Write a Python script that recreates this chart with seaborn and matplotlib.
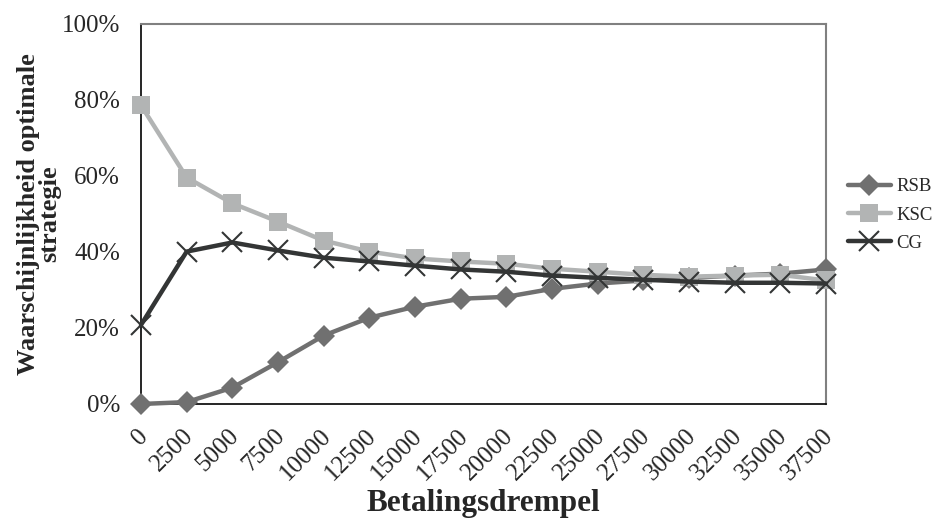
import matplotlib
matplotlib.use("Agg")
import matplotlib.pyplot as plt
import matplotlib.transforms as mtransforms
import seaborn as sns
import pandas as pd
from matplotlib.ticker import PercentFormatter

thresholds = ["0", "2500", "5000", "7500", "10000", "12500", "15000", "17500",
              "20000", "22500", "25000", "27500", "30000", "32500", "35000", "37500"]
rsb = [0.0, 0.5, 4.3, 11.0, 18.0, 22.7, 25.6, 27.7, 28.2, 30.3, 31.7, 32.5, 33.2, 33.8, 34.3, 35.4]
ksc = [78.6, 59.6, 52.8, 48.0, 43.0, 40.1, 38.3, 37.5, 36.9, 35.6, 34.8, 34.0, 33.5, 33.8, 34.0, 32.5]
cg = [20.8, 40.1, 42.5, 40.4, 38.5, 37.5, 36.4, 35.4, 34.8, 33.8, 33.2, 32.7, 32.2, 31.9, 31.9, 31.7]
series = ["RSB", "KSC", "CG"]

sns.set_theme(style="white")
plt.rcParams['font.family'] = ['Liberation Serif', 'DejaVu Serif']

rows = []
for name, vals in zip(series, [rsb, ksc, cg]):
    for i, v in enumerate(vals):
        rows.append({"idx": i, "val": v, "serie": name})
df = pd.DataFrame(rows)

colors = {"RSB": "#707070", "KSC": "#b2b4b4", "CG": "#333535"}
markers = {"RSB": "D", "KSC": "s", "CG": "x"}
msize = {"RSB": 11, "KSC": 13.5, "CG": 14}

fig = plt.figure(figsize=(9.38, 5.19), dpi=100)
ax = fig.add_axes([0.1503, 0.2216, 0.7303, 0.7322])

for name in series:
    sub = df[df.serie == name]
    sns.lineplot(data=sub, x="idx", y="val", ax=ax, color=colors[name], linewidth=3.2,
                 marker=markers[name], markersize=msize[name],
                 markeredgewidth=1.5 if name == "CG" else 0,
                 markeredgecolor=colors[name], label=name, clip_on=False, zorder=3)

ax.set_xlim(0, len(thresholds) - 1)
ax.set_ylim(0, 100)
ax.set_yticks([0, 20, 40, 60, 80, 100])
ax.yaxis.set_major_formatter(PercentFormatter(decimals=0))
ax.set_xticks(range(len(thresholds)))
ax.set_xticklabels(thresholds, rotation=45, ha="right", rotation_mode="anchor")
ax.tick_params(axis="x", labelsize=18, pad=15, length=0)
ax.tick_params(axis="y", labelsize=18, pad=15, length=0)
for lbl in ax.get_xticklabels():
    lbl.set_transform(lbl.get_transform() + mtransforms.ScaledTranslation(-4/100, 0, fig.dpi_scale_trans))

ax.set_xlabel("Betalingsdrempel", fontsize=22.5, fontweight="bold")
ax.xaxis.set_label_coords(0.5, -0.224)
ax.set_ylabel("Waarschijnlijkheid optimale\nstrategie", fontsize=19, fontweight="bold",
              linespacing=0.88)
ax.yaxis.set_label_coords(-0.117, 0.5)

for side in ["left", "bottom"]:
    ax.spines[side].set_color("black")
    ax.spines[side].set_linewidth(1.2)
for side in ["top", "right"]:
    ax.spines[side].set_color("#808080")
    ax.spines[side].set_linewidth(1.5)

ax.legend(loc="center left", bbox_to_anchor=(1.032, 0.497), frameon=False, fontsize=13.5,
          handlelength=2.3, handletextpad=0.3, labelspacing=0.6, borderaxespad=0,
          borderpad=0)

fig.savefig("out.png", dpi=100)
